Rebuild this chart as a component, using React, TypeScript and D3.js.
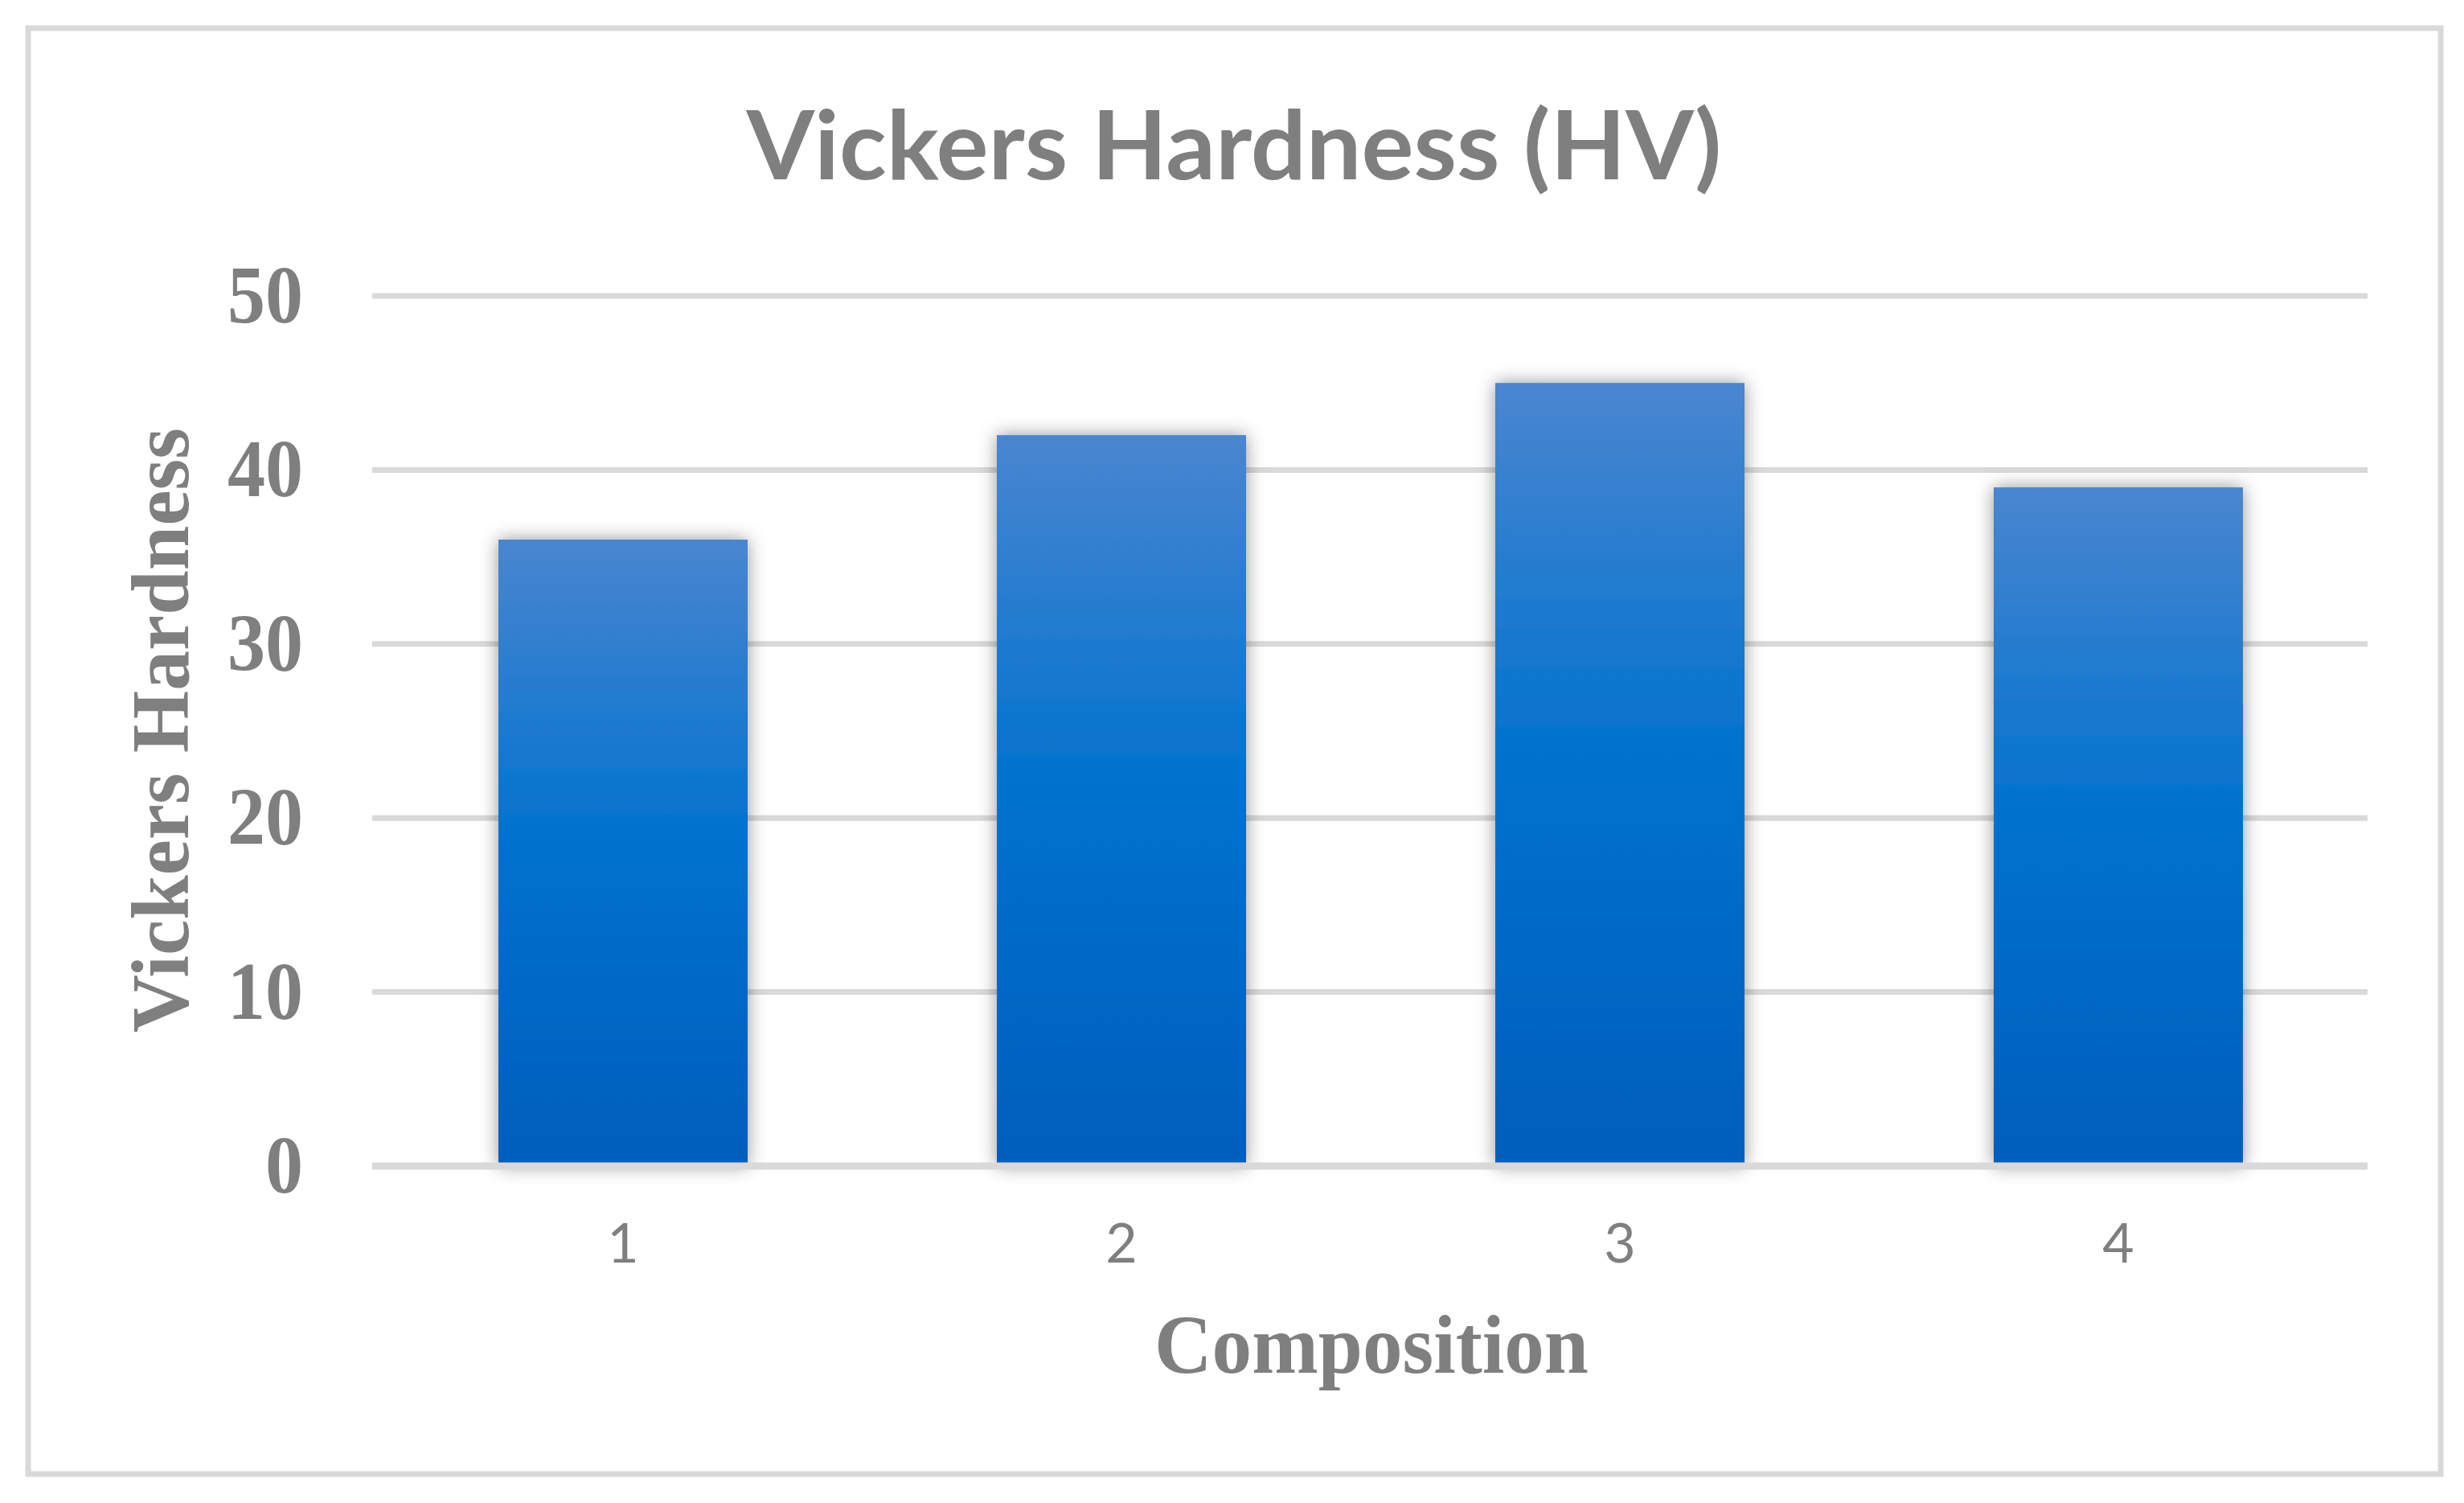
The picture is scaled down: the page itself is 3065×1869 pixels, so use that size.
import React from "react";
import * as d3 from "d3";

const categories: string[] = ["1", "2", "3", "4"];
const hardness: number[] = [36, 42, 45, 39];
const yTicks: number[] = [0, 10, 20, 30, 40, 50];
const titleText = "Vickers Hardness (HV)";
const xAxisTitle = "Composition";
const yAxisTitle = "Vickers Hardness";

const W = 3065;
const H = 1869;
const GRAY = "#7f7f7f";
const GRID = "#d9d9d9";

export default function App() {
  const x = d3
    .scaleBand<string>()
    .domain(categories)
    .range([465, 2945])
    .paddingInner(0.5)
    .paddingOuter(0.25);
  const y = d3.scaleLinear().domain([0, 50]).range([1450, 368]);

  return (
    <svg
      width={W}
      height={H}
      viewBox={`0 0 ${W} ${H}`}
      style={{ position: "absolute", left: 0, top: 0, background: "#fff" }}
    >
      <defs>
        <linearGradient id="barGrad" x1="0" y1="0" x2="0" y2="1">
          <stop offset="0" stopColor="rgb(74,134,208)" />
          <stop offset="0.48" stopColor="rgb(0,114,206)" />
          <stop offset="1" stopColor="rgb(0,94,188)" />
        </linearGradient>
        <filter id="shadow" x="-30%" y="-20%" width="160%" height="140%">
          <feDropShadow dx="0" dy="0" stdDeviation="11" floodColor="#000" floodOpacity="0.42" />
        </filter>
      </defs>
      <rect x={0} y={0} width={W} height={H} fill="#fff" />
      <rect x={35} y={35} width={3001} height={1798} fill="#fff" stroke={GRID} strokeWidth={7} />

      <text
        x={1535}
        y={223}
        textAnchor="middle"
        fontFamily="Lato, 'Open Sans', sans-serif"
        fontWeight={700}
        fontSize={119}
        fill={GRAY}
        textLength={1213}
        lengthAdjust="spacingAndGlyphs"
      >
        {titleText}
      </text>

      {/* gridlines */}
      {yTicks
        .filter((t) => t !== 0)
        .map((t) => (
          <line key={t} x1={463} x2={2945} y1={y(t)} y2={y(t)} stroke={GRID} strokeWidth={7} />
        ))}

      {/* bars */}
      {categories.map((c, i) => (
        <rect
          key={c}
          x={x(c)}
          y={y(hardness[i])}
          width={x.bandwidth()}
          height={y(0) - y(hardness[i])}
          fill="url(#barGrad)"
          filter="url(#shadow)"
        />
      ))}

      {/* axis line */}
      <line x1={463} x2={2945} y1={y(0)} y2={y(0)} stroke={GRID} strokeWidth={9} />

      {/* y ticks */}
      {yTicks.map((t) => (
        <text
          key={t}
          x={377}
          y={y(t) + 33}
          textAnchor="end"
          fontFamily="'Liberation Serif', 'Times New Roman', serif"
          fontWeight={700}
          fontSize={102}
          fill={GRAY}
          textLength={String(t).length === 2 ? 94 : 47}
          lengthAdjust="spacingAndGlyphs"
        >
          {t}
        </text>
      ))}

      {/* x ticks */}
      {categories.map((c) => (
        <text
          key={c}
          x={(x(c) as number) + x.bandwidth() / 2}
          y={1570}
          textAnchor="middle"
          fontFamily="Lato, 'Open Sans', sans-serif"
          fontSize={68}
          fill={GRAY}
        >
          {c}
        </text>
      ))}

      <text
        x={1706}
        y={1707}
        textAnchor="middle"
        fontFamily="'Liberation Serif', 'Times New Roman', serif"
        fontWeight={700}
        fontSize={104}
        fill={GRAY}
        textLength={540}
        lengthAdjust="spacingAndGlyphs"
      >
        {xAxisTitle}
      </text>

      <text
        transform={`translate(234, 908) rotate(-90)`}
        x={0}
        y={0}
        textAnchor="middle"
        fontFamily="'Liberation Serif', 'Times New Roman', serif"
        fontWeight={700}
        fontSize={102}
        fill={GRAY}
        textLength={752}
        lengthAdjust="spacingAndGlyphs"
      >
        {yAxisTitle}
      </text>
    </svg>
  );
}
